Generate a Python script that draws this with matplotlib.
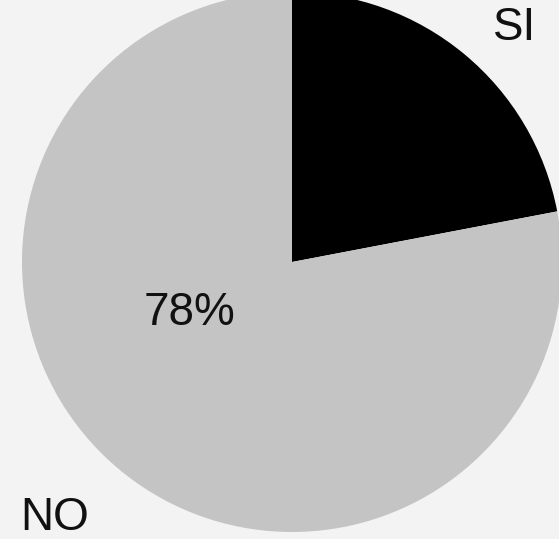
import matplotlib.pyplot as plt

# Data
labels = ["SI", "NO"]
values = [22, 78]
colors = ["#000000", "#c4c4c4"]

W, H = 559, 539
fig = plt.figure(figsize=(W / 100, H / 100), dpi=100)
fig.patch.set_facecolor("#f3f3f3")
ax = fig.add_axes([0, 0, 1, 1])
ax.set_xlim(0, W)
ax.set_ylim(0, H)
ax.set_facecolor("#f3f3f3")
ax.axis("off")

# pixel-style coordinates, y measured from bottom
cx, cy, r = 292, H - 262, 270
ax.pie(
    values,
    colors=colors,
    startangle=90,
    counterclock=False,
    center=(cx, cy),
    radius=r,
    frame=True,
    wedgeprops={"linewidth": 0},
)
ax.set_xlim(0, W)
ax.set_ylim(0, H)
ax.set_aspect("equal")
ax.axis("off")

font = "Liberation Sans"
ax.text(515, H - 28, labels[0], fontsize=33, family=font, ha="center", va="center", color="#111111")
ax.text(55, H - 518, labels[1], fontsize=33, family=font, ha="center", va="center", color="#111111")
ax.text(190, H - 313, f"{values[1]}%", fontsize=33, family=font, ha="center", va="center", color="#111111")

plt.savefig("out.png", dpi=100, facecolor=fig.get_facecolor())
